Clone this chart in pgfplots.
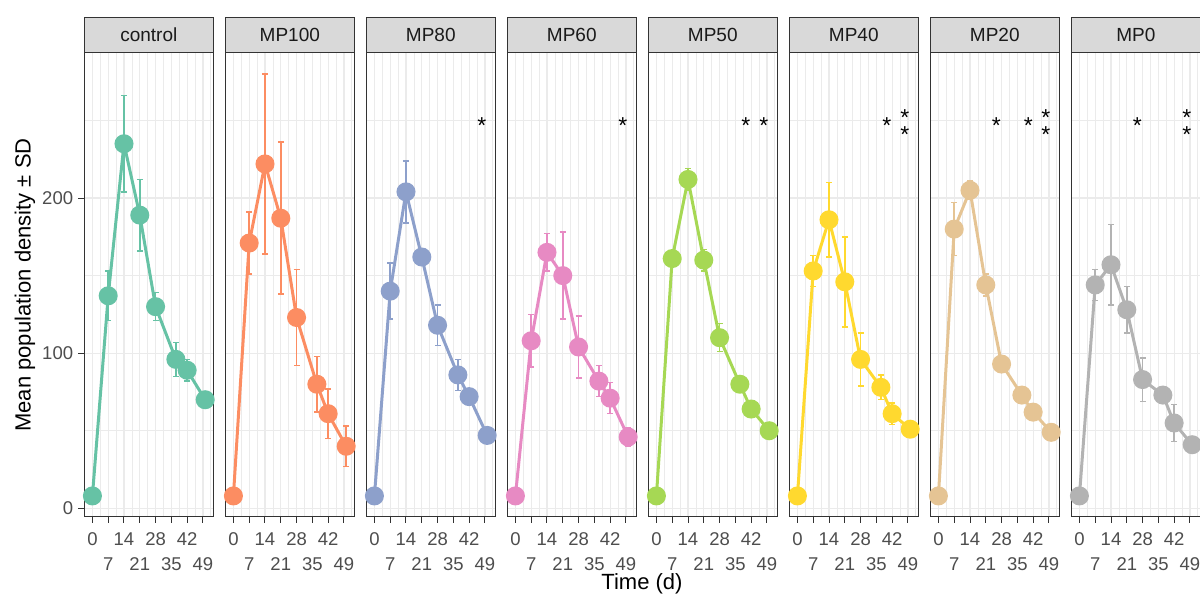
\documentclass[border=0pt]{standalone}
\usepackage{fontspec}
\setmainfont{Liberation Sans}
\usepackage{pgfplots}
\pgfplotsset{compat=1.18}
\definecolor{c1}{HTML}{66C2A5}
\definecolor{c2}{HTML}{FC8D62}
\definecolor{c3}{HTML}{8DA0CB}
\definecolor{c4}{HTML}{E78AC3}
\definecolor{c5}{HTML}{A6D854}
\definecolor{c6}{HTML}{FFD92F}
\definecolor{c7}{HTML}{E5C494}
\definecolor{c8}{HTML}{B3B3B3}
\definecolor{gridc}{HTML}{EBEBEB}
\definecolor{framec}{HTML}{333333}
\definecolor{stripc}{HTML}{D9D9D9}
\definecolor{tickc}{HTML}{4D4D4D}
\definecolor{stript}{HTML}{1A1A1A}
\pgfplotsset{
  panel/.style={
    scale only axis, width=129pt, height=464pt,
    anchor=south west,
    xmin=-3.6, xmax=53.6, ymin=-5.4, ymax=293.7,
    axis line style={framec, line width=1.1pt},
    xtick={0,7,14,21,28,35,42,49},
    xticklabels={\strut 0,{\strut\\7},\strut 14,{\strut\\21},\strut 28,{\strut\\35},\strut 42,{\strut\\49}},
    minor xtick={3.5,10.5,17.5,24.5,31.5,38.5,45.5,52.5},
    ytick={0,100,200}, minor ytick={50,150,250},
    yticklabels={0,100,200},
    grid=both,
    major grid style={gridc, line width=1.2pt},
    minor grid style={gridc, line width=0.7pt},
    tick align=outside, xtick pos=bottom, ytick pos=left,
    major tick length=6pt, minor tick length=0pt,
    tick style={framec, line width=1pt},
    xticklabel style={font=\fontsize{18.5}{25}\selectfont, text=tickc, align=center, anchor=north, inner sep=0pt, yshift=-5pt},
    yticklabel style={font=\fontsize{18.5}{22}\selectfont, text=tickc, anchor=east, inner sep=0pt, xshift=-5pt},
    clip=false,
  },
  inner/.style={yticklabels={}, ytick style={draw=none}},
  series/.style={#1, line width=3pt, mark=*, mark size=8pt, mark options={solid, fill=#1, draw=#1},
    error bars/.cd, y dir=both, y explicit,
    error bar style={line width=1.5pt, #1},
    error mark options={rotate=90, mark size=3pt, line width=1.5pt, #1}},
}
\newcommand{\sig}[2]{\node[font=\fontsize{23}{26}\selectfont, inner sep=0pt, anchor=base] at (axis cs:#1,#2) {*};}
\newcommand{\sigg}[2]{\node[font=\fontsize{23}{17}\selectfont, align=center, inner sep=0pt, anchor=center] at (axis cs:#1,#2) {*\\*};}
\begin{document}
\begin{tikzpicture}[x=1pt,y=1pt]
% control
\begin{axis}[panel, at={(84.3pt,78.3pt)}]
\addplot[series=c1] table[x=t,y=m,y error=e] {
t m e
0 8 0
7 137 16
14 235 31
21 189 23
28 130 9
37 96 11
42 89 7
50 70 2
};
\end{axis}
% MP100
\begin{axis}[panel, inner, at={(225.3pt,78.3pt)}]
\addplot[series=c2] table[x=t,y=m,y error=e] {
t m e
0 8 0
7 171 20
14 222 58
21 187 49
28 123 31
37 80 18
42 61 16
50 40 13
};
\end{axis}
% MP80
\begin{axis}[panel, inner, at={(366.3pt,78.3pt)}]
\addplot[series=c3] table[x=t,y=m,y error=e] {
t m e
0 8 0
7 140 18
14 204 20
21 162 3
28 118 13
37 86 10
42 72 3
50 47 2
};
\sig{47.6}{241.5}
\end{axis}
% MP60
\begin{axis}[panel, inner, at={(507.3pt,78.3pt)}]
\addplot[series=c4] table[x=t,y=m,y error=e] {
t m e
0 8 0
7 108 17
14 165 12
21 150 28
28 104 20
37 82 10
42 71 10
50 46 6
};
\sig{47.6}{241.5}
\end{axis}
% MP50
\begin{axis}[panel, inner, at={(648.3pt,78.3pt)}]
\addplot[series=c5] table[x=t,y=m,y error=e] {
t m e
0 8 0
7 161 3
14 212 7
21 160 7
28 110 9
37 80 3
42 64 3
50 50 5
};
\sig{39.7}{241.5}
\sig{47.6}{241.5}
\end{axis}
% MP40
\begin{axis}[panel, inner, at={(789.3pt,78.3pt)}]
\addplot[series=c6] table[x=t,y=m,y error=e] {
t m e
0 8 0
7 153 10
14 186 24
21 146 29
28 96 17
37 78 8
42 61 7
50 51 2
};
\sig{39.7}{241.5}
\sigg{47.6}{246.3}
\end{axis}
% MP20
\begin{axis}[panel, inner, at={(930.3pt,78.3pt)}]
\addplot[series=c7] table[x=t,y=m,y error=e] {
t m e
0 8 0
7 180 17
14 205 6
21 144 7
28 93 3
37 73 3
42 62 3
50 49 2
};
\sig{25.7}{241.5}
\sig{39.9}{241.5}
\sigg{47.6}{246.3}
\end{axis}
% MP0
\begin{axis}[panel, inner, at={(1071.3pt,78.3pt)}]
\addplot[series=c8] table[x=t,y=m,y error=e] {
t m e
0 8 0
7 144 10
14 157 26
21 128 15
28 83 14
37 73 3
42 55 12
50 41 3
};
\sig{25.7}{241.5}
\sigg{47.6}{246.3}
\end{axis}
% strips
\foreach \i/\nm in {0/control,1/MP100,2/MP80,3/MP60,4/MP50,5/MP40,6/MP20,7/MP0}{
  \draw[fill=stripc, draw=framec, line width=1.1pt] (84.3+\i*141, 542.3) rectangle ++(129, 35.5);
  \node[font=\fontsize{19}{22}\selectfont, text=stript, inner sep=0pt] at (84.3+\i*141+64.5, 560) {\nm};
}
\node[rotate=90, font=\fontsize{22}{26}\selectfont] at (25, 310) {Mean population density ± SD};
\node[font=\fontsize{22}{26}\selectfont] at (642, 11) {Time (d)};
\pgfresetboundingbox
\path[use as bounding box] (0,0) rectangle (1200,595);
\end{tikzpicture}
\end{document}
